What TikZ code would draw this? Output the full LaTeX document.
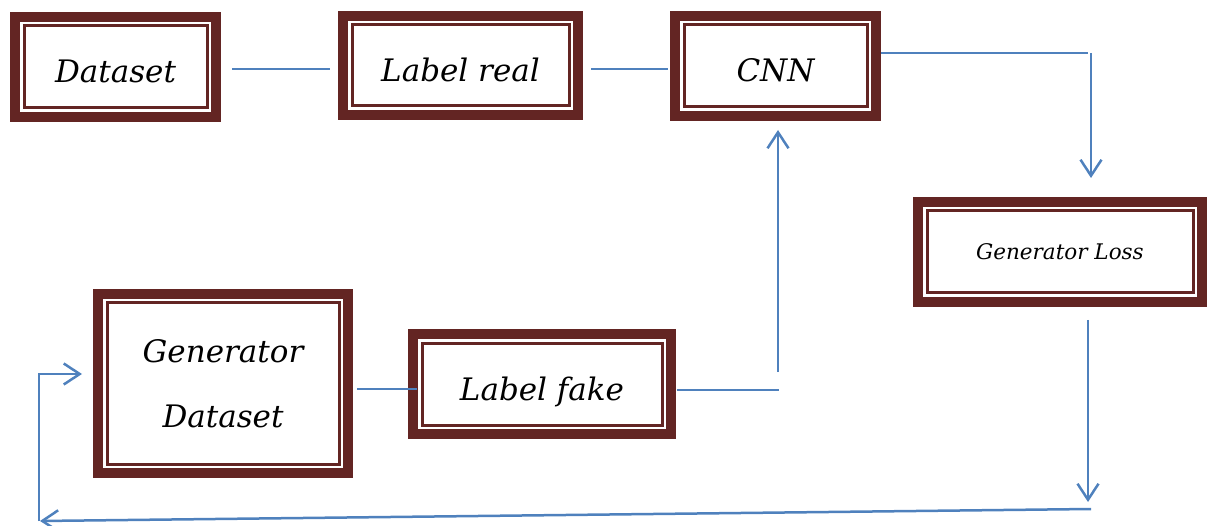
\documentclass[tikz,border=0pt]{standalone}
\usepackage{fontspec}
\setmainfont{DejaVu Serif}
\usetikzlibrary{arrows.meta}
\definecolor{boxred}{HTML}{632523}
\definecolor{lineblue}{HTML}{4F81BD}
\tikzset{
  framebox/.style={draw=boxred, line width=10pt, outer sep=0pt, inner sep=0pt,
    fill=white, font=\fontsize{31}{65}\selectfont\itshape, align=center},
  lowtext/.style={text height=32pt, text depth=0pt},
  innerframe/.style={draw=boxred, line width=3pt},
  conn/.style={draw=lineblue, line width=2.5pt},
  arr/.style={conn, -{Straight Barb[length=16pt,width=21pt]}},
}
\begin{document}
\begin{tikzpicture}[x=1pt,y=-1pt]
\useasboundingbox (0,0) rectangle (1209,526);
\node[framebox, lowtext, minimum width=201, minimum height=100] (ds) at (115.5,67) {Dataset};
\node[framebox, lowtext, minimum width=235, minimum height=99] (lr) at (460.5,65.5) {Label real};
\node[framebox, lowtext, minimum width=201, minimum height=100] (cnn) at (775.5,66) {CNN};
\node[framebox, minimum width=284, minimum height=100, font=\fontsize{21.5}{26}\selectfont\itshape] (gl) at (1060,252) {Generator Loss};
\node[framebox, minimum width=250, minimum height=179] (gd) at (223,383.5) {Generator\\Dataset};
\node[framebox, lowtext, minimum width=258, minimum height=100] (lf) at (542,384) {Label fake};
\foreach \n in {ds,lr,cnn,gl,gd,lf}
  \draw[innerframe] ([shift={(9,9)}]\n.north west) rectangle ([shift={(-9,-9)}]\n.south east);
\coordinate (j1) at (779,390);
\coordinate (j2) at (778,372);
\coordinate (j3) at (1088,53);
\coordinate (j4) at (1091,53);
\coordinate (j5) at (1088,502);
\coordinate (j6) at (1091,509);
\coordinate (j7) at (40,521);
\coordinate (j8) at (39,521);
\coordinate (j9) at (39,374);
\draw[conn] ([shift={(16,2)}]ds.east) -- ([shift={(-13,3.5)}]lr.west);
\draw[conn] ([shift={(13,3.5)}]lr.east) -- ([shift={(-7,3)}]cnn.west);
\draw[conn] ([shift={(5,-13)}]cnn.east) -- (j3);
\draw[arr] (j4) -- ([shift={(31,-24)}]gl.north);
\draw[arr] ([shift={(28,18)}]gl.south) -- (j5);
\draw[arr] (j6) -- (j7);
\draw[arr] (j8) -- (j9) -- ([shift={(-16,-9.5)}]gd.west);
\draw[conn] ([shift={(9,5.5)}]gd.east) -- ([shift={(4,5)}]lf.west);
\draw[conn] ([shift={(6,6)}]lf.east) -- (j1);
\draw[arr] (j2) -- ([shift={(2.5,14)}]cnn.south);
\end{tikzpicture}
\end{document}
